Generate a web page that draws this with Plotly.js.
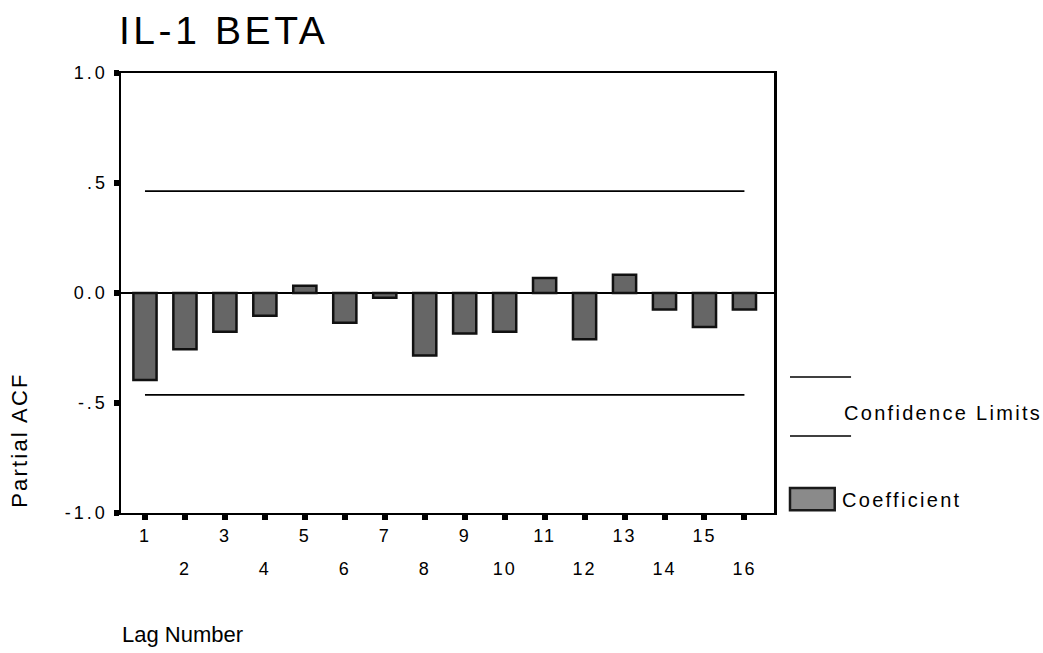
<!DOCTYPE html>
<html>
<head>
<meta charset="utf-8">
<script src="https://cdn.plot.ly/plotly-3.0.1.min.js"></script>
<style>
html,body{margin:0;padding:0;background:#fff;}
#chart{width:1043px;height:653px;}
#chart .gtitle{letter-spacing:3.6px;}
#chart .xtick text, #chart .x2tick text{letter-spacing:2px;}
#chart .ytick text{letter-spacing:3px;}
#chart .annotation[data-index="0"] text{letter-spacing:2.2px;}
#chart .annotation[data-index="2"] text{letter-spacing:2.3px;}
#chart .annotation[data-index="3"] text{letter-spacing:2.3px;}
</style>
</head>
<body>
<div id="chart"></div>
<script>
// ---- data ----
const lags = [1,2,3,4,5,6,7,8,9,10,11,12,13,14,15,16];
const pacf = [-0.395,-0.256,-0.176,-0.103,0.033,-0.135,-0.022,-0.284,-0.184,-0.176,0.068,-0.21,0.083,-0.075,-0.155,-0.075];
const upperLimit = [0.463,0.463];
const lowerLimit = [-0.463,-0.463];
const limitLags = [1,16];
const yTickVals = [-1,-0.5,0,0.5,1];
const yTickText = ['-1.0','-.5','0.0','.5','1.0'];
const oddTicks = lags.filter(v => v % 2 === 1);
const evenTicks = lags.filter(v => v % 2 === 0);

const FONT = 'Liberation Sans, Arial, sans-serif';

const traces = [
  {type:'bar', x:lags, y:pacf, width:0.58,
   marker:{color:'#666666', line:{color:'#111', width:2.5}}, showlegend:false, hoverinfo:'x+y'},
  {type:'scatter', mode:'lines', x:limitLags, y:upperLimit, line:{color:'#000', width:1.8}, showlegend:false},
  {type:'scatter', mode:'lines', x:limitLags, y:lowerLimit, line:{color:'#000', width:1.8}, showlegend:false},
  {type:'scatter', mode:'markers', x:evenTicks, y:evenTicks.map(()=>null), xaxis:'x2', showlegend:false, hoverinfo:'skip'}
];

const layout = {
  width:1043, height:653,
  margin:{l:121, r:269, t:73, b:140},
  paper_bgcolor:'#fff', plot_bgcolor:'#fff',
  font:{family:FONT, color:'#000', size:16},
  title:{text:'IL-1 BETA', font:{family:FONT, size:39, color:'#000'},
         xref:'container', x:0.114, xanchor:'left', yref:'container', y:0.953, yanchor:'middle'},
  xaxis:{range:[0.40,16.74], tickvals:lags, ticktext:lags.map(v => v % 2 === 1 ? String(v) : ''),
         ticks:'outside', ticklen:5, tickwidth:6, tickcolor:'#000',
         showline:true, linecolor:'#000', linewidth:2, mirror:true,
         showgrid:false, zeroline:false, tickfont:{size:18, family:FONT}, ticklabelstandoff:0},
  xaxis2:{overlaying:'x', matches:'x', side:'bottom', anchor:'y', tickvals:evenTicks, ticktext:evenTicks.map(String),
          ticks:'', showline:false, showgrid:false, zeroline:false, tickfont:{size:18, family:FONT}, ticklabelstandoff:43},
  yaxis:{range:[-1,1], tickvals:yTickVals, ticktext:yTickText,
         ticks:'outside', ticklen:5, tickwidth:6, tickcolor:'#000',
         showline:true, linecolor:'#000', linewidth:2.5, mirror:true,
         showgrid:false, zeroline:true, zerolinecolor:'#000', zerolinewidth:1.8,
         tickfont:{size:18, family:FONT}, ticklabelstandoff:2},
  shapes:[
    {type:'line', xref:'paper', yref:'paper', x0:1.0245, x1:1.118, y0:0.309, y1:0.309, line:{color:'#000', width:1.5}},
    {type:'line', xref:'paper', yref:'paper', x0:1.0245, x1:1.118, y0:0.175, y1:0.175, line:{color:'#000', width:1.5}},
    {type:'rect', xref:'paper', yref:'paper', x0:1.0245, x1:1.093, y0:0.006, y1:0.057, fillcolor:'#8a8a8a', line:{color:'#1a1a1a', width:2.5}}
  ],
  annotations:[
    {text:'Partial ACF', textangle:-90, xref:'paper', yref:'paper', x:-0.155, y:0.166, xanchor:'center', yanchor:'middle',
     showarrow:false, font:{size:22, family:FONT}},
    {text:'Lag Number', xref:'paper', yref:'paper', x:-0.002, y:-0.277, xanchor:'left', yanchor:'middle', align:'left',
     showarrow:false, font:{size:22, family:FONT}},
    {text:'Confidence Limits', xref:'paper', yref:'paper', x:1.104, y:0.227, xanchor:'left', yanchor:'middle', align:'left',
     showarrow:false, font:{size:20, family:FONT}},
    {text:'Coefficient', xref:'paper', yref:'paper', x:1.101, y:0.029, xanchor:'left', yanchor:'middle', align:'left',
     showarrow:false, font:{size:20, family:FONT}}
  ],
  bargap:0.4
};

Plotly.newPlot('chart', traces, layout, {displayModeBar:false, staticPlot:true});
</script>
</body>
</html>
